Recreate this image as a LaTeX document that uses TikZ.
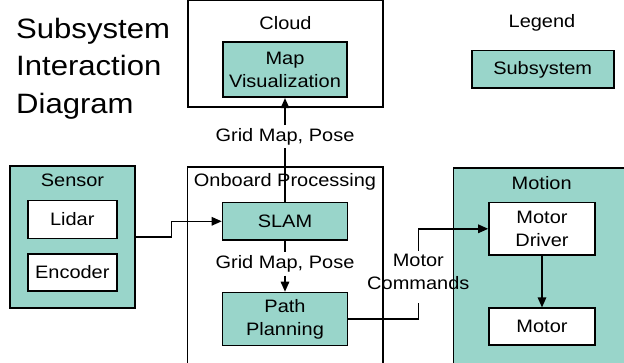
\documentclass[tikz,border=0pt]{standalone}
\usepackage{fontspec}
\setmainfont{Liberation Sans}[FakeStretch=1.11]
\usetikzlibrary{arrows.meta}
\definecolor{subteal}{RGB}{153,213,202}
\begin{document}
\begin{tikzpicture}[x=1pt, y=1pt,
    every node/.style={font=\fontsize{18}{23}\selectfont, align=center},
    grp/.style={draw, line width=1.6pt, inner sep=0pt},
    sub/.style={draw, line width=1.6pt, fill=subteal, inner sep=0pt},
    part/.style={draw, line width=1.6pt, fill=white, inner sep=0pt},
    arr/.style={line width=1.4pt, -{Triangle[length=10pt, width=8.5pt]}},
    conn/.style={line width=1.4pt}]
    \clip (0,0) rectangle (624,362);

    % Titolo
    \node[anchor=north west, align=left, inner sep=0pt,
          font=\fontsize{28}{37.3}\selectfont] (title) at (16,344)
          {Subsystem\\Interaction\\Diagram};

    % Cloud
    \node[grp, minimum width=195pt, minimum height=106.7pt] (cloud) at (285.5,308.35) {};
    \node (cloudlbl) at (285.5,339.3) {Cloud};
    \node[sub, minimum width=124pt, minimum height=55.3pt] (mapvis) at (285,292.35) {Map\\Visualization};

    % Legenda
    \node (legendlbl) at (542,339.3) {Legend};
    \node[sub, minimum width=142pt, minimum height=37.6pt] (legend) at (542.7,292.5) {Subsystem};

    % Sensor
    \node[sub, minimum width=125pt, minimum height=142pt] (sensor) at (72.5,125) {};
    \node (sensorlbl) at (72.5,181.3) {Sensor};
    \node[part, minimum width=89pt, minimum height=37.6pt] (lidar) at (72.3,142.5) {Lidar};
    \node[part, minimum width=89pt, minimum height=37pt] (encoder) at (72.3,89.5) {Encoder};

    % Onboard Processing
    \node[grp, minimum width=195.4pt, minimum height=214.7pt] (onboard) at (285,87.35) {};
    \node (onboardlbl) at (285,180.3) {Onboard Processing};
    \node[sub, minimum width=125pt, minimum height=37.3pt] (slam) at (285,140.7) {SLAM};
    \node[sub, minimum width=125pt, minimum height=53pt] (path) at (285,43) {Path\\Planning};

    % Motion
    \node[sub, minimum width=186.7pt, minimum height=213.7pt] (motion) at (546.65,86.85) {};
    \node (motionlbl) at (541.7,179.3) {Motion};
    \node[part, minimum width=106pt, minimum height=52.3pt] (driver) at (542,133.2) {Motor\\Driver};
    \node[part, minimum width=106pt, minimum height=37pt] (motor) at (542,35.3) {Motor};

    % Etichette dei collegamenti
    \node[inner sep=3pt] (gmup) at (285,225.3) {Grid Map, Pose};
    \node[inner sep=3pt] (gmdown) at (285,98) {Grid Map, Pose};
    \node[inner sep=3pt] (cmd) at (418.3,90.5) {Motor\\Commands};

    % Collegamenti
    \draw[conn] (slam.north) -- (gmup.south);
    \draw[arr] (gmup.north) -- (mapvis.south);
    \draw[conn] (slam.south) -- (gmdown.north);
    \draw[arr] (gmdown.south) -- (path.north);
    \draw[arr] (sensor.east) -- ++(35.7,0) |- (slam.west);
    \draw[conn] (path.east) -| ([yshift=-11pt]cmd.south);
    \draw[arr] (cmd.north) |- (driver.west);
    \draw[arr] (driver.south) -- (motor.north);

\end{tikzpicture}
\end{document}
